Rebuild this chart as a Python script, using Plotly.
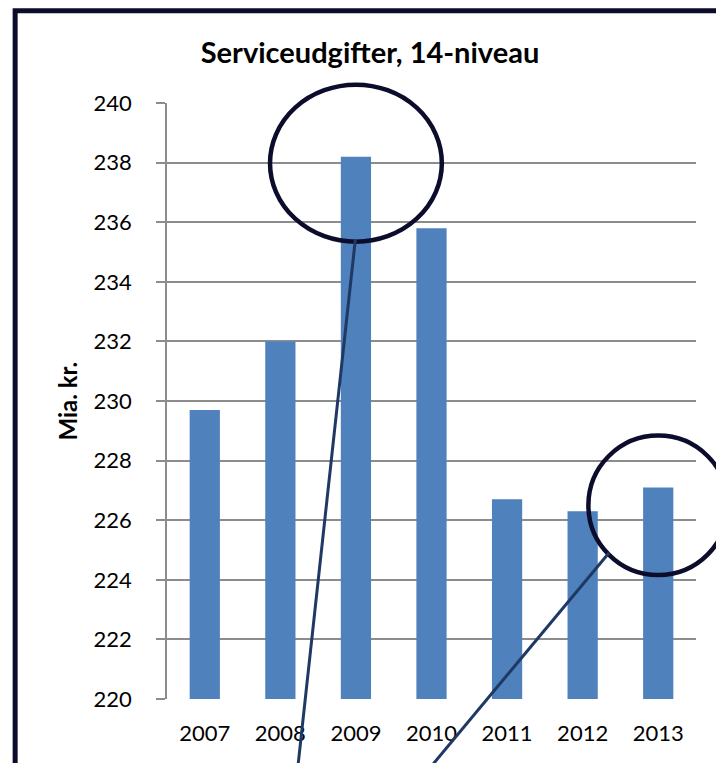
import plotly.graph_objects as go

years = ["2007", "2008", "2009", "2010", "2011", "2012", "2013"]
values = [229.7, 232.0, 238.2, 235.8, 226.7, 226.3, 227.1]
y_ticks = [220, 222, 224, 226, 228, 230, 232, 234, 236, 238, 240]
title_text = "Serviceudgifter, 14-niveau"
y_title = "Mia. kr."

W, H = 716, 763
L, R, T, B = 166.5, 20, 103.3, 63.7
PW = W - L - R
PH = H - T - B

def px(x):
    return (x - L) / PW

def py(y):
    return (H - B - y) / PH

fig = go.Figure()
fig.add_trace(go.Bar(x=years, y=values, marker=dict(color="#4F81BD", line=dict(width=0)),
                     hoverinfo="x+y"))

n = len(years)
def cat_x(i):
    return (i + 0.5) / n

def val_y(v):
    return (v - 220) / 20

ring = "#0c0c2c"
connector = "#1f3864"
shapes = []
# circle around 2009
cx, cy, rx, ry = cat_x(2), val_y(237.98), 0.1624, 0.1317
shapes.append(dict(type="circle", xref="paper", yref="paper", x0=cx - rx, x1=cx + rx,
                   y0=cy - ry, y1=cy + ry, line=dict(color=ring, width=4.5), layer="above"))
# circle around 2013
cx, cy, rx, ry = cat_x(6), val_y(226.5), 0.132, 0.117
shapes.append(dict(type="circle", xref="paper", yref="paper", x0=cx - rx, x1=cx + rx,
                   y0=cy - ry, y1=cy + ry, line=dict(color=ring, width=4.5), layer="above"))
# connector lines
shapes.append(dict(type="line", xref="paper", yref="paper", x0=px(355), y0=py(240),
                   x1=px(295), y1=py(790), line=dict(color=connector, width=3), layer="above"))
shapes.append(dict(type="line", xref="paper", yref="paper", x0=px(609), y0=py(553),
                   x1=px(411.5), y1=py(790), line=dict(color=connector, width=3), layer="above"))
# outer frame (top and left edges)
shapes.append(dict(type="path", xref="paper", yref="paper",
                   path=f"M {px(14.5)},{py(800)} L {px(14.5)},{py(11)} L {px(760)},{py(11)}",
                   line=dict(color=ring, width=5), layer="above"))

fig.update_layout(
    width=W, height=H,
    margin=dict(l=L, r=R, t=T, b=B, autoexpand=False),
    paper_bgcolor="white", plot_bgcolor="white",
    font=dict(family="Lato", color="black", size=22),
    showlegend=False,
    bargap=0.6,
    title=dict(text=f"<b>{title_text}</b>", x=370 / W, xanchor="center",
               y=1 - 53 / H, yanchor="middle", yref="container",
               font=dict(family="Lato", size=29, color="black")),
    shapes=shapes,
    annotations=[dict(text=f"<b>{y_title}</b>", xref="paper", yref="paper",
                      x=px(66), y=0.5, textangle=-90, showarrow=False,
                      xanchor="center", yanchor="middle",
                      font=dict(family="Lato", size=24, color="black"))],
)
fig.update_xaxes(type="category", showline=False, showgrid=False, ticks="",
                 ticklabelstandoff=19, tickfont=dict(size=22), fixedrange=True)
fig.update_yaxes(range=[220, 240], tickvals=y_ticks, showgrid=True, gridcolor="#8c8c8c",
                 gridwidth=1.6, zeroline=False, showline=True, linecolor="#8c8c8c",
                 linewidth=1.6, ticks="outside", ticklen=9, tickcolor="#8c8c8c",
                 tickwidth=1.6, ticklabelstandoff=20, tickfont=dict(size=22), fixedrange=True)

fig.write_html("out.html", config={"displayModeBar": False},
               post_script="document.body.style.margin='0';document.body.style.overflow='hidden';")
